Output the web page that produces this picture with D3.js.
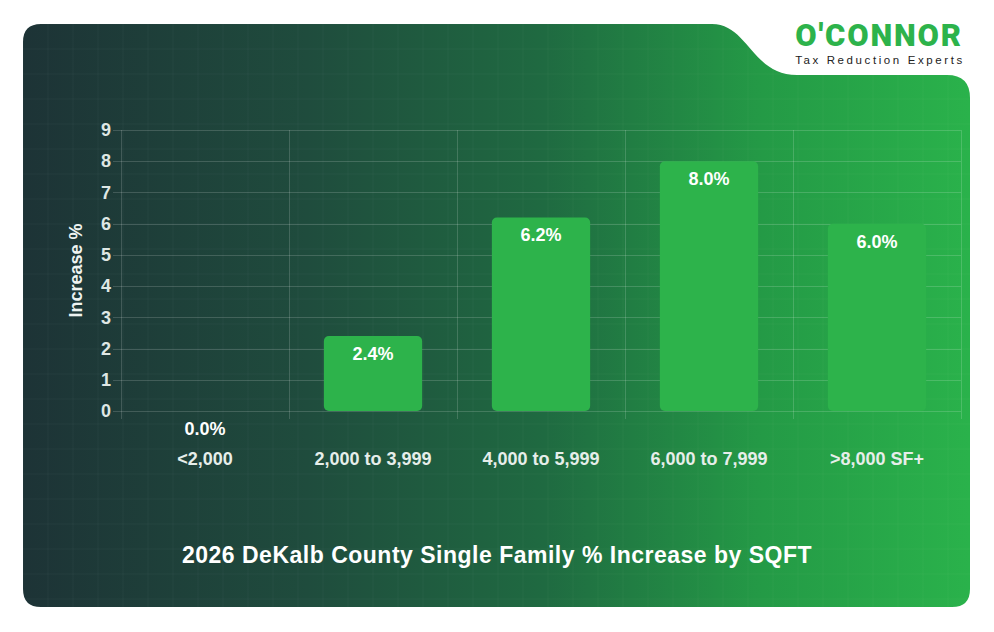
<!DOCTYPE html>
<html>
<head>
<meta charset="utf-8">
<script src="https://cdn.jsdelivr.net/npm/d3@7"></script>
<style>
  body { margin: 0; background: #fff; }
  svg { display: block; font-family: "Liberation Sans", Arial, sans-serif; }
</style>
</head>
<body>
<div id="chart-area"></div>
<script>
const W = 994, H = 632
const MARGIN = { LEFT: 121, RIGHT: 33, TOP: 130, BOTTOM: 221 }

const categories = ["<2,000", "2,000 to 3,999", "4,000 to 5,999", "6,000 to 7,999", ">8,000 SF+"]
const values = [0.0, 2.4, 6.2, 8.0, 6.0]
const yTicks = [0, 1, 2, 3, 4, 5, 6, 7, 8, 9]
const title = "2026 DeKalb County Single Family % Increase by SQFT"
const yLabel = "Increase %"

const data = categories.map((c, i) => ({ cat: c, value: values[i] }))

const svg = d3.select("#chart-area").append("svg")
  .attr("width", W)
  .attr("height", H)

const defs = svg.append("defs")
const grad = defs.append("linearGradient")
  .attr("id", "bg")
  .attr("x1", "0%").attr("x2", "100%").attr("y1", "0%").attr("y2", "0%")
grad.selectAll("stop")
  .data([
    [0, "#1d3336"], [0.3, "#1f4c3d"], [0.55, "#1f6a41"], [0.78, "#249a46"], [1, "#2ab24b"]
  ])
  .join("stop")
    .attr("offset", d => d[0])
    .attr("stop-color", d => d[1])

// card with the cut-out for the logo
const card = d3.path()
card.moveTo(41, 24)
card.lineTo(712, 24)
card.bezierCurveTo(748, 24, 752, 75, 797, 75)
card.lineTo(947, 75)
card.quadraticCurveTo(970, 75, 970, 98)
card.lineTo(970, 589)
card.quadraticCurveTo(970, 607, 952, 607)
card.lineTo(41, 607)
card.quadraticCurveTo(23, 607, 23, 589)
card.lineTo(23, 42)
card.quadraticCurveTo(23, 24, 41, 24)
card.closePath()

defs.append("clipPath").attr("id", "cardclip")
  .append("path").attr("d", card.toString())

svg.append("path")
  .attr("d", card.toString())
  .attr("fill", "url(#bg)")

// faint background texture
const tex = svg.append("g").attr("clip-path", "url(#cardclip)")
  .attr("stroke", "#ffffff").attr("stroke-opacity", 0.035)
tex.selectAll("line.v").data(d3.range(23, 970, 25)).join("line")
  .attr("x1", d => d).attr("x2", d => d).attr("y1", 24).attr("y2", 607)
tex.selectAll("line.h").data(d3.range(24, 607, 25)).join("line")
  .attr("x1", 23).attr("x2", 970).attr("y1", d => d).attr("y2", d => d)

const x = d3.scaleBand()
  .domain(categories)
  .range([MARGIN.LEFT, 961])
  .paddingInner(0)

const y = d3.scaleLinear()
  .domain([0, 9])
  .range([H - MARGIN.BOTTOM, MARGIN.TOP])

const barW = x.bandwidth() * 0.585

// gridlines
const grid = svg.append("g")
  .attr("stroke", "#ffffff").attr("stroke-opacity", 0.16).attr("stroke-width", 1)
grid.selectAll("line.h").data(yTicks).join("line")
  .attr("x1", MARGIN.LEFT - 8).attr("x2", x.range()[1])
  .attr("y1", d => Math.round(y(d)) + 0.5).attr("y2", d => Math.round(y(d)) + 0.5)
const xEdges = categories.map(c => x(c)).concat([x.range()[1]])
grid.selectAll("line.v").data(xEdges).join("line")
  .attr("x1", d => Math.round(d) + 0.5).attr("x2", d => Math.round(d) + 0.5)
  .attr("y1", y(9)).attr("y2", y(0) + 8)

// y axis
const yAxis = g => g
  .attr("transform", `translate(${MARGIN.LEFT - 10},0)`)
  .call(d3.axisLeft(y).tickValues(yTicks).tickSize(0).tickPadding(0))
  .call(g => g.select(".domain").remove())
  .call(g => g.selectAll("text")
    .attr("fill", "#dfe7e4")
    .attr("font-size", 18)
    .attr("font-weight", "bold")
    .attr("font-family", "Liberation Sans, Arial, sans-serif"))

svg.append("g").call(yAxis)

svg.append("text")
  .attr("transform", `translate(82,${(y(0) + y(9)) / 2}) rotate(-90)`)
  .attr("text-anchor", "middle")
  .attr("fill", "#eef3f1")
  .attr("font-size", 18)
  .attr("font-weight", "bold")
  .text(yLabel)

// x axis labels
const xAxis = g => g
  .attr("transform", `translate(0,${y(0) + 41})`)
  .call(d3.axisBottom(x).tickSize(0).tickPadding(0))
  .call(g => g.select(".domain").remove())
  .call(g => g.selectAll("text")
    .attr("fill", "#e6eeea")
    .attr("font-size", 18)
    .attr("font-weight", "bold")
    .attr("font-family", "Liberation Sans, Arial, sans-serif"))

svg.append("g").call(xAxis)

// bars
svg.append("g")
  .selectAll("rect")
  .data(data.filter(d => d.value > 0))
  .join("rect")
    .attr("x", d => x(d.cat) + (x.bandwidth() - barW) / 2)
    .attr("width", barW)
    .attr("y", d => y(d.value))
    .attr("height", d => y(0) - y(d.value))
    .attr("rx", 5)
    .attr("fill", "#2db34b")

// value labels
svg.append("g")
  .selectAll("text")
  .data(data)
  .join("text")
    .attr("x", d => x(d.cat) + x.bandwidth() / 2)
    .attr("y", d => y(d.value) + 24)
    .attr("text-anchor", "middle")
    .attr("fill", "#ffffff")
    .attr("font-size", 18)
    .attr("font-weight", "bold")
    .text(d => d.value.toFixed(1) + "%")

// title
svg.append("text")
  .attr("x", 497)
  .attr("y", 563)
  .attr("text-anchor", "middle")
  .attr("fill", "#ffffff")
  .attr("font-size", 23)
  .attr("letter-spacing", 0.5)
  .attr("font-weight", "bold")
  .text(title)

// logo
const logo = svg.append("g")
logo.append("text")
  .attr("x", 879)
  .attr("y", 46)
  .attr("text-anchor", "middle")
  .attr("fill", "#2db34b")
  .attr("font-size", 31)
  .attr("font-weight", "900")
  .attr("font-family", "Roboto, Liberation Sans, sans-serif")
  .attr("letter-spacing", 1.8)
  .text("O'CONNOR")
logo.append("text")
  .attr("x", 880)
  .attr("y", 64)
  .attr("text-anchor", "middle")
  .attr("fill", "#222222")
  .attr("font-size", 11.5)
  .attr("letter-spacing", 2.6)
  .text("Tax Reduction Experts")
</script>
</body>
</html>
